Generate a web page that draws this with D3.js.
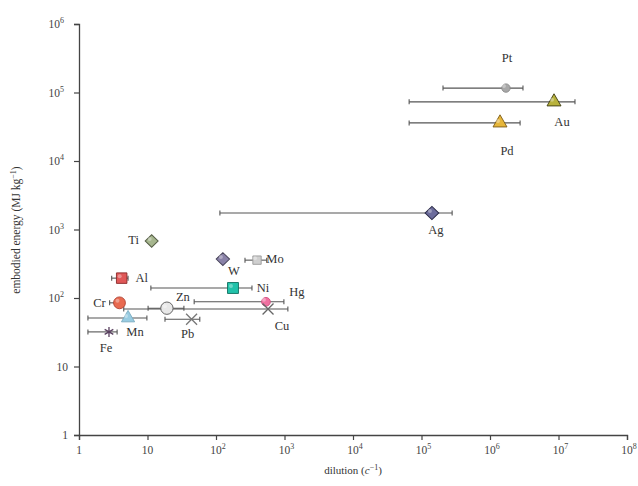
<!DOCTYPE html>
<html><head><meta charset="utf-8">
<script src="https://cdn.jsdelivr.net/npm/d3@7/dist/d3.min.js"></script>
<style>body{margin:0;background:#fff;}svg{display:block;font-family:"Liberation Serif","Times New Roman",serif;}</style>
</head><body>
<svg id="c" width="638" height="486"></svg>
<script>
const metals   = ["Pt","Au","Pd","Ag","Ti","Al","W","Mo","Ni","Hg","Cu","Zn","Cr","Mn","Fe","Pb"];
const dilution = [1.71e6, 8.6e6, 1.4e6, 1.42e5, 11.5, 4.2, 126, 397, 177, 536, 575, 19.2, 3.9, 5.2, 2.74, 44];
const energy   = [1.16e5, 7.3e4, 3.6e4, 1.74e3, 680, 195, 370, 357, 140, 88, 69, 71, 85, 51, 32, 49];
const dilLow   = [2.06e5, 6.6e4, 6.6e4, 114, 10.2, 3.0, null, 265, 11.2, 48, 4.5, 10.2, 2.8, 1.35, 1.35, 18];
const dilHigh  = [3.03e6, 1.74e7, 2.75e6, 2.8e5, 12, 5.2, null, 550, 335, 980, 1120, 34, 4.5, 9.8, 3.6, 58];
const xTicks = [1,1e1,1e2,1e3,1e4,1e5,1e6,1e7,1e8];
const yTicks = [1,1e1,1e2,1e3,1e4,1e5,1e6];
const tickLabels = ["1","10","10|2","10|3","10|4","10|5","10|6","10|7","10|8"];

// styling (not data)
const style = {
  Pt:{sym:"circle",size:55,fill:"#a8a8a8",stroke:"#888",lx:1,ly:-30},
  Au:{sym:"triangle",size:85,fill:"#b8b23c",stroke:"#3c3a10",lx:8,ly:20},
  Pd:{sym:"triangle",size:85,fill:"#e6b63a",stroke:"#7a5a18",lx:7,ly:28},
  Ag:{sym:"diamond",size:90,fill:"#6c6c9c",stroke:"#2c2c48",lx:4,ly:17},
  Ti:{sym:"diamond",size:80,fill:"#a6b68e",stroke:"#586048",lx:-18,ly:-1},
  Al:{sym:"square",size:110,fill:"#e05858",stroke:"#8a2828",lx:20,ly:0},
  W:{sym:"diamond",size:85,fill:"#8a82a8",stroke:"#48445a",lx:11,ly:12},
  Mo:{sym:"square",size:70,fill:"#cfcfcf",stroke:"#9a9a9a",lx:18,ly:-1},
  Ni:{sym:"square",size:120,fill:"#22c2aa",stroke:"#107060",lx:30,ly:0},
  Hg:{sym:"circle",size:60,fill:"#f070a0",stroke:"#d05080",lx:31,ly:-10},
  Cu:{sym:"x",size:80,fill:"none",stroke:"#666",lx:14,ly:17},
  Zn:{sym:"circle",size:120,fill:"#e8e8e8",stroke:"#555",lx:16,ly:-11},
  Cr:{sym:"circle",size:110,fill:"#e86a50",stroke:"#b04030",lx:-20,ly:0},
  Mn:{sym:"triangle",size:75,fill:"#98cce2",stroke:"#78aac0",lx:7,ly:14},
  Fe:{sym:"star6",size:70,fill:"none",stroke:"#5a4060",lx:-3,ly:16},
  Pb:{sym:"x",size:80,fill:"none",stroke:"#777",lx:-4,ly:15}
};

const svg = d3.select("#c");
const x = d3.scaleLog().domain([1,1e8]).range([79,627]);
const y = d3.scaleLog().domain([1,1e6]).range([435,24]);
const axisColor = "#444";

// axes
const gx = svg.append("g").attr("transform","translate(0,435)")
  .call(d3.axisBottom(x).tickValues(xTicks).tickSize(5).tickFormat(()=>""));
const gy = svg.append("g").attr("transform","translate(79,0)")
  .call(d3.axisLeft(y).tickValues(yTicks).tickSize(5).tickFormat(()=>""));
[gx,gy].forEach(g=>{g.selectAll("path").attr("stroke",axisColor).attr("stroke-width",1.3);
  g.selectAll("line").attr("stroke",axisColor).attr("stroke-width",1.2);});

function sup(sel, lab){
  const p = lab.split("|");
  sel.append("tspan").text(p[0]);
  if(p[1]) sel.append("tspan").attr("dy",-5).attr("font-size",8).text(p[1]);
}
xTicks.forEach((t,i)=>{
  const tx = svg.append("text").attr("x",x(t)+(i>1?2:0)).attr("y",454).attr("text-anchor","middle")
    .attr("font-size",11.5).attr("fill","#444");
  sup(tx, tickLabels[i]);
});
yTicks.forEach((t,i)=>{
  const tx = svg.append("text").attr("x",i>1?64:68).attr("y",y(t)+4).attr("text-anchor","end")
    .attr("font-size",11.5).attr("fill","#444");
  sup(tx, tickLabels[i]);
});

// axis titles
const xt = svg.append("text").attr("x",353).attr("y",474).attr("text-anchor","middle").attr("font-size",11).attr("fill","#333");
xt.append("tspan").text("dilution (");
xt.append("tspan").attr("font-style","italic").text("c");
xt.append("tspan").attr("dy",-4).attr("font-size",8).text("−1");
xt.append("tspan").attr("dy",4).text(")");
const yt = svg.append("text").attr("transform","translate(20,230) rotate(-90)").attr("text-anchor","middle").attr("font-size",11.5).attr("fill","#333");
yt.append("tspan").text("embodied energy (MJ kg");
yt.append("tspan").attr("dy",-4).attr("font-size",8).text("−1");
yt.append("tspan").attr("dy",4).text(")");

// error bars
const eb = svg.append("g");
metals.forEach((m,i)=>{
  if(dilLow[i]==null) return;
  const yy = y(energy[i]);
  eb.append("line").attr("x1",x(dilLow[i])).attr("x2",x(dilHigh[i])).attr("y1",yy).attr("y2",yy)
    .attr("stroke","#555").attr("stroke-width",1.1);
  [dilLow[i],dilHigh[i]].forEach(v=>{
    eb.append("line").attr("x1",x(v)).attr("x2",x(v)).attr("y1",yy-2.5).attr("y2",yy+2.5)
      .attr("stroke","#555").attr("stroke-width",1.1);
  });
});

// markers
const symMap = {circle:d3.symbolCircle,triangle:d3.symbolTriangle,diamond:d3.symbolDiamond,square:d3.symbolSquare,x:d3.symbolTimes,star6:d3.symbolAsterisk};
const mk = svg.append("g");
metals.forEach((m,i)=>{
  const s = style[m];
  const px = x(dilution[i]), py = y(energy[i]);
  const path = mk.append("path").attr("transform",`translate(${px},${py})`)
    .attr("d",d3.symbol().type(symMap[s.sym]).size(s.size)())
    .attr("fill",s.fill).attr("stroke",s.stroke).attr("stroke-width",s.fill==="none"?1.3:0.9);
  if(s.sym==="diamond") path.attr("transform",`translate(${px},${py}) scale(1.35,0.75)`);
  if(s.fill!=="none" && s.sym!=="x"){
    mk.append("circle").attr("cx",px-2).attr("cy",py-2).attr("r",2).attr("fill","#fff").attr("opacity",0.35);
  }
  svg.append("text").attr("x",px+s.lx).attr("y",py+s.ly).attr("text-anchor","middle")
    .attr("dominant-baseline","central").attr("font-size",12.5).attr("fill","#333").text(m);
});
</script>
</body></html>
